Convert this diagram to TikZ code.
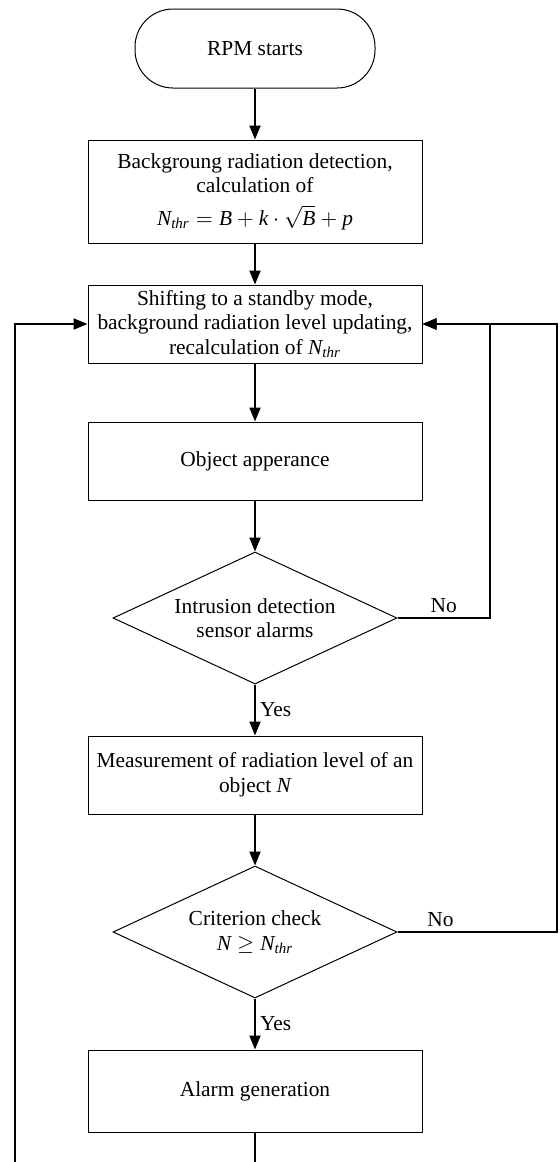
\documentclass[tikz,border=0pt]{standalone}
\usepackage{fontspec}
\setmainfont{Liberation Serif}
\usetikzlibrary{positioning,chains,shapes.geometric,arrows.meta}
\newcommand{\Nthr}{\mathit{N}_{\mathit{thr}}}
\tikzset{
    >={Triangle[length=7pt,width=5.5pt]},
    termchain/.style={
        rectangle,
        rounded corners=19pt,
        draw=black, line width=0.5pt,
        minimum width=120pt,
        minimum height=39.5pt,
        text centered,
        on chain
    },
    punktchain/.style={
        rectangle,
        draw=black, line width=0.5pt,
        minimum width=167pt,
        minimum height=39pt,
        inner sep=1pt,
        align=center,
        on chain
    },
    decchain/.style={
        diamond,
        aspect=2.15,
        draw=black, line width=0.5pt,
        minimum width=142pt,
        minimum height=66pt,
        inner sep=0pt,
        align=center,
        on chain
    },
    line/.style={draw, line width=1pt, ->},
    plainline/.style={draw, line width=1pt}
}
\begin{document}
\begin{tikzpicture}[font=\fontsize{10.7}{12.3}\selectfont, start chain=going below, node distance=25.5pt]
    \useasboundingbox (0,0) rectangle (280pt,-581pt);

    \node[termchain] (start) at (127.5pt,-24.25pt) {RPM starts};
    \node[punktchain, minimum height=51.5pt] (detect) {Backgroung radiation detection,\\
        calculation of\\[4pt] $\Nthr = \mathit{B} + \mathit{k}\cdot\sqrt{\mathit{B}} + \mathit{p}$};
    \node[punktchain, below=20.5pt of detect] (standby) {Shifting to a standby mode,\\
        background radiation level updating,\\ recalculation of $\Nthr$};
    \node[punktchain, below=29pt of standby] (object) {Object apperance};
    \node[decchain] (intrusion) {Intrusion detection\\ sensor alarms};
    \node[punktchain] (measure) {Measurement of radiation level of an\\ object $\mathit{N}$};
    \node[decchain] (criterion) {Criterion check\\ $\mathit{N} \geq \Nthr$};
    \node[punktchain, minimum height=41pt] (alarm) {Alarm generation};

    % loop lines
    \coordinate (inner) at (245pt,0);
    \coordinate (outer) at (278.5pt,0);
    \coordinate (bottom) at (0,-581pt);
    \coordinate (leftend) at (7.5pt,-581pt);

    \draw[line] (start) -- (detect);
    \draw[line] (detect) -- (standby);
    \draw[line] (standby) -- (object);
    \draw[line] (object) -- (intrusion);
    \draw[line] (intrusion) -- node[right, inner sep=2pt] {Yes} (measure);
    \draw[line] (measure) -- (criterion);
    \draw[line] (criterion) -- node[right, inner sep=2pt] {Yes} (alarm);

    \draw[line] (intrusion.east) -- node[above, inner sep=2pt] {No} (intrusion.east -| inner) |- (standby.east);
    \draw[line] (criterion.east) -- node[above, inner sep=2pt, pos=0.27] {No} (criterion.east -| outer) |- (standby.east);
    \draw[plainline] (alarm.south) -- (alarm.south |- bottom);
    \draw[line] (leftend) |- (standby.west);

\end{tikzpicture}
\end{document}
